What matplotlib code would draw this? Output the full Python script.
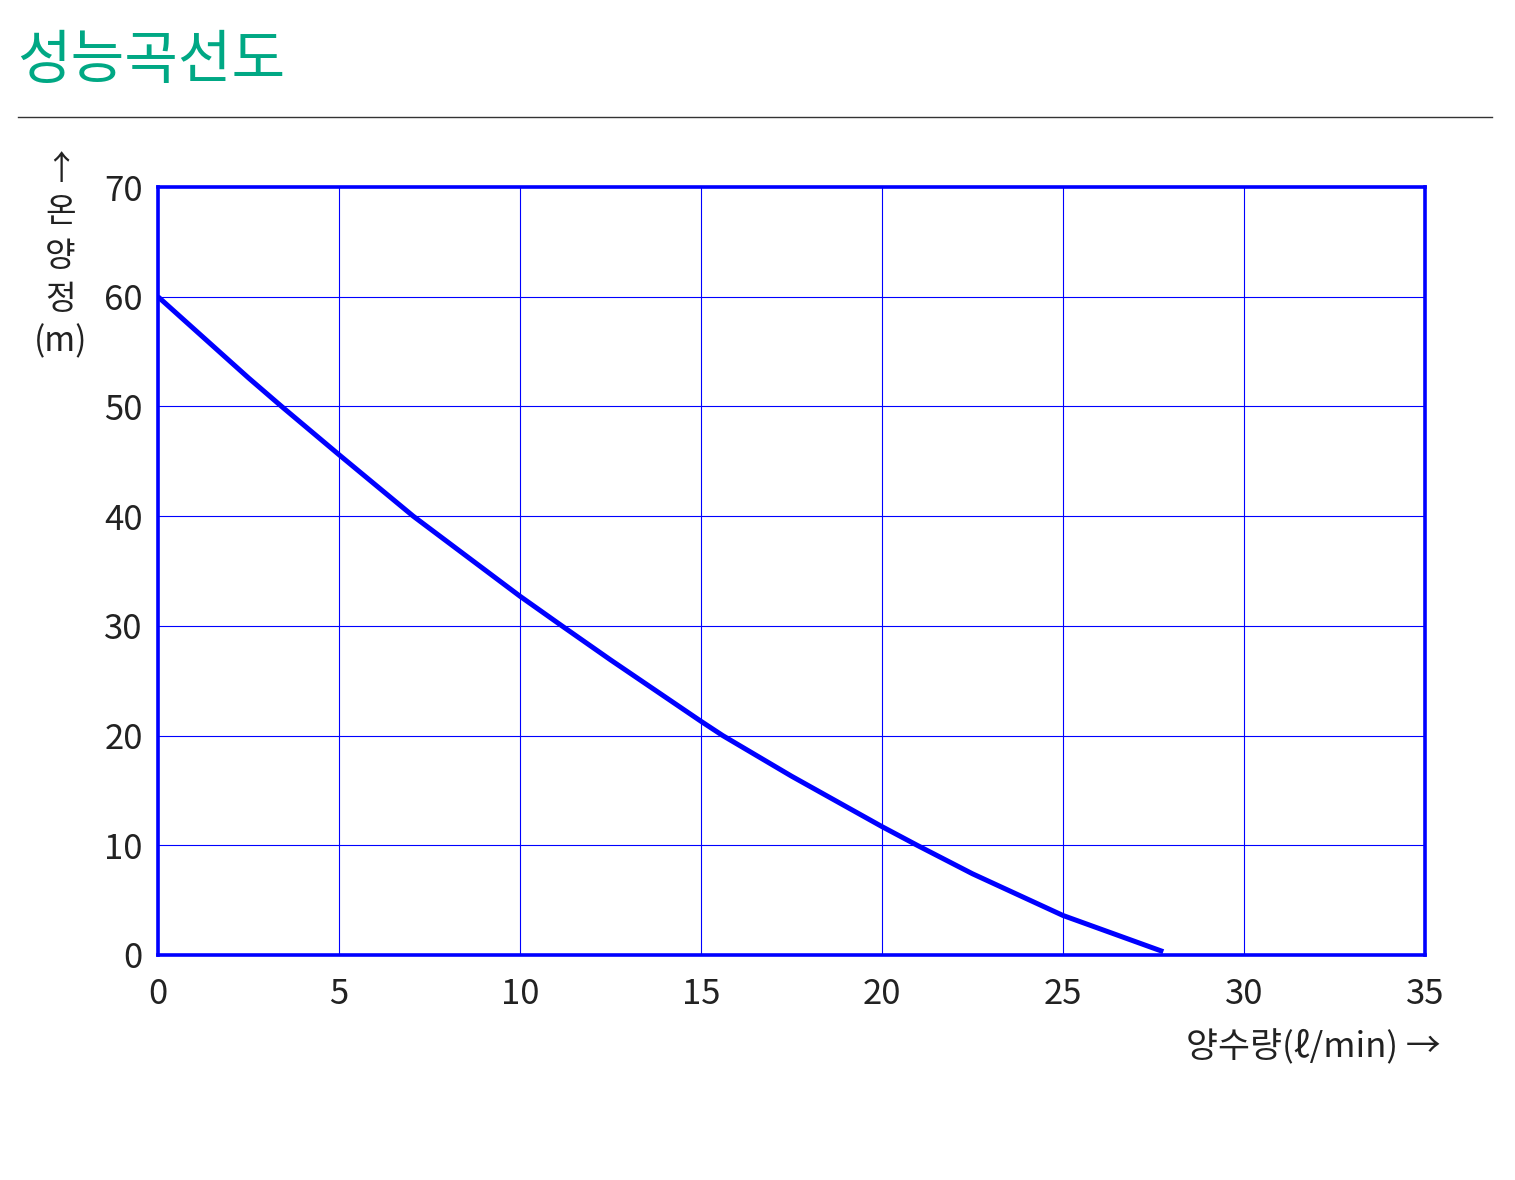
import matplotlib.pyplot as plt

plt.rcParams['font.family'] = ['Noto Sans CJK KR', 'DejaVu Sans']

# flow (l/min) vs head (m)
flow = [0, 2.5, 3.45, 5, 7.05, 10, 11.2, 12.5, 15, 15.6, 17.5, 20, 20.97, 22.5, 25, 27.77]
head = [60, 52.6, 49.9, 45.6, 40, 32.7, 29.9, 26.9, 21.3, 20, 16.3, 11.7, 10, 7.4, 3.6, 0.3]

x_ticks = [0, 5, 10, 15, 20, 25, 30, 35]
y_ticks = [0, 10, 20, 30, 40, 50, 60, 70]

blue = '#0000ff'
txt = '#222222'

fig = plt.figure(figsize=(15.15, 11.8), dpi=100)
ax = fig.add_axes([0.1043, 0.1907, 0.8363, 0.6508])

ax.plot(flow, head, color=blue, lw=3.6, solid_capstyle='butt',
        solid_joinstyle='round', zorder=3)

ax.set_xlim(0, 35)
ax.set_ylim(0, 70)
ax.set_xticks(x_ticks)
ax.set_yticks(y_ticks)
ax.grid(True, color=blue, lw=0.8)
ax.tick_params(length=0, labelsize=25, labelcolor=txt)
ax.tick_params(axis='y', pad=11)
ax.tick_params(axis='x', pad=16)
for s in ax.spines.values():
    s.set_color(blue)
    s.set_linewidth(2.6)

# title and rule
fig.text(0.011, 0.948, '성능곡선도', fontsize=42, color='#00a884', va='center', ha='left')
fig.add_artist(plt.Line2D([0.012, 0.985], [0.901, 0.901], color='#333333', lw=1))

# axis labels
fig.text(0.04, 0.783, '↑\n온\n양\n정\n(m)', fontsize=24, color=txt,
         ha='center', va='center', linespacing=1.3)
fig.text(0.951, 0.112, '양수량(ℓ/min) →', fontsize=25, color=txt,
         ha='right', va='center')

fig.savefig('out.png', dpi=100)
